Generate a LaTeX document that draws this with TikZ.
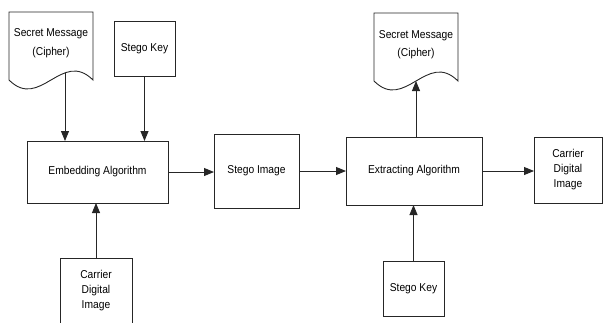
\documentclass[tikz,border=0pt]{standalone}
\usepackage{fontspec}
\setmainfont[FakeStretch=0.9]{Liberation Sans}
\usetikzlibrary{arrows.meta,calc}

\begin{document}
\begin{tikzpicture}[x=1pt,y=-1pt,
  every node/.style={inner sep=0pt, outer sep=0pt},
  boxnode/.style={draw=black!85, line width=0.9pt, align=center,
    font=\fontsize{11.4}{15}\selectfont},
  docframe/.style={minimum width=84pt, minimum height=68pt},
  doctext/.style={align=center, font=\fontsize{11.4}{18.5}\selectfont},
  outline/.style={draw=black!85, line width=0.9pt},
  flow/.style={draw=black!85, line width=0.9pt,
    -{Triangle[length=10pt,width=8pt]}}]
  \useasboundingbox (0,0) rectangle (603,322);

  % input side
  \node[docframe] (docL) at (51,46) {};
  \draw[outline] (docL.south west) -- (docL.north west) -- (docL.north east)
    -- (docL.south east)
    .. controls ($(docL.south east)+(-31,-31)$) and ($(docL.south west)+(31,31)$) .. (docL.south west);
  \node[doctext] (docLtext) at (51,43) {Secret Message\\(Cipher)};
  \coordinate (docLout) at ($(docL.south)+(14,-7)$);

  \node[boxnode, minimum width=61pt, minimum height=55pt] (key1) at (144.5,48.5) {Stego Key};
  \node[boxnode, minimum width=141pt, minimum height=62pt] (embed) at (97.5,172) {Embedding Algorithm};
  \node[boxnode, minimum width=72pt, minimum height=82pt] (carrier1) at (96,299) {};
  \node[align=center, font=\fontsize{11.4}{15}\selectfont] (carrier1text) at (96,291) {Carrier\\Digital\\Image};

  % middle
  \node[boxnode, minimum width=85pt, minimum height=74pt] (stego) at (256.5,171) {Stego Image};

  % output side
  \node[boxnode, minimum width=136pt, minimum height=68pt] (extract) at (414,171) {Extracting Algorithm};
  \node[docframe] (docR) at (416,47) {};
  \draw[outline] (docR.south west) -- (docR.north west) -- (docR.north east)
    -- (docR.south east)
    .. controls ($(docR.south east)+(-31,-31)$) and ($(docR.south west)+(31,31)$) .. (docR.south west);
  \node[doctext] (docRtext) at (416,44.5) {Secret Message\\(Cipher)};
  \node[boxnode, minimum width=68pt, minimum height=66pt] (carrier2) at (568,170) {Carrier\\Digital\\Image};
  \node[boxnode, minimum width=61pt, minimum height=55pt] (key2) at (413.5,288.5) {Stego Key};

  % connectors
  \draw[flow] (docLout) -- (docLout |- embed.north);
  \draw[flow] (key1.south) -- (key1.south |- embed.north);
  \draw[flow] (carrier1.north) -- (carrier1.north |- embed.south);
  \draw[flow] (embed.east) -- (embed.east -| stego.west);
  \draw[flow] (stego.east) -- (extract.west);
  \draw[flow] (extract.north -| docR.south) -- (docR.south);
  \draw[flow] (extract.east) -- (extract.east -| carrier2.west);
  \draw[flow] (key2.north) -- (key2.north |- extract.south);
\end{tikzpicture}
\end{document}
